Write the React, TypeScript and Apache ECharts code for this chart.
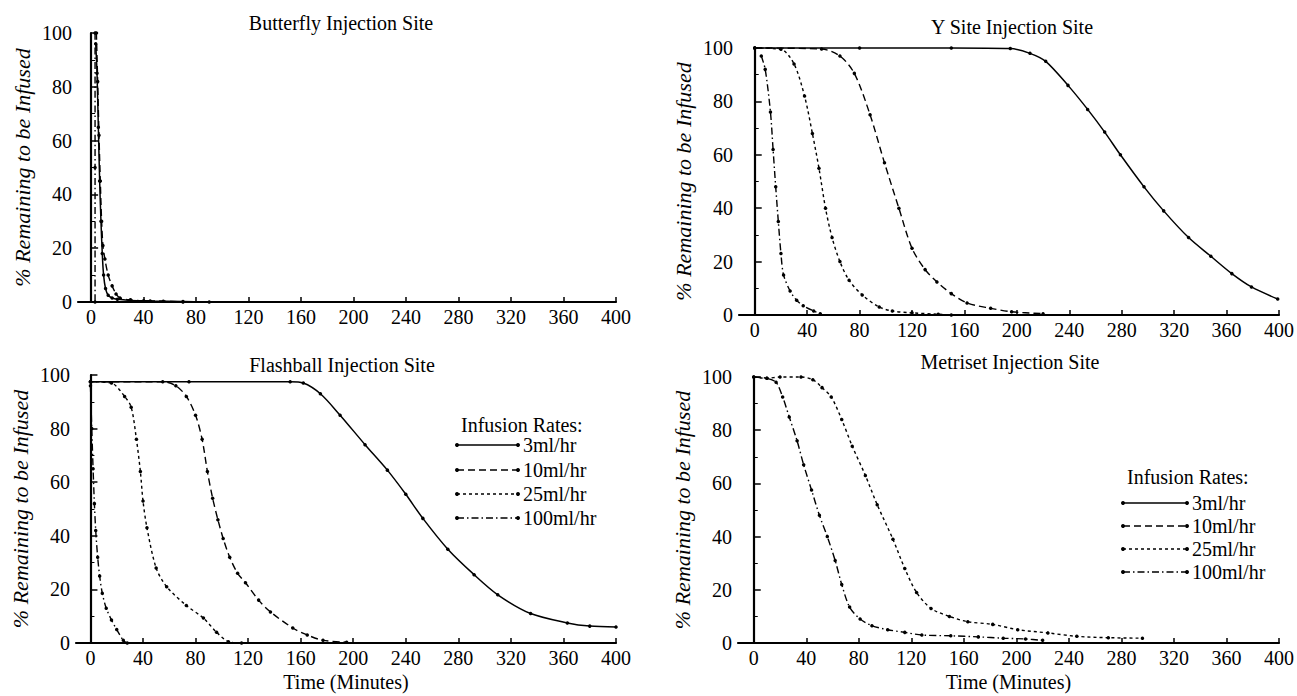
import React, { useEffect, useRef } from "react";
import * as echarts from "echarts";

// ---------- data ----------
const xTickValues = [0, 40, 80, 120, 160, 200, 240, 280, 320, 360, 400];
const rateNames = ["3ml/hr", "10ml/hr", "25ml/hr", "100ml/hr"];
const panelTitles = [
  "Butterfly Injection Site",
  "Y Site Injection Site",
  "Flashball Injection Site",
  "Metriset Injection Site",
];
const yAxisTitle = "% Remaining to be Infused";
const xAxisTitle = "Time (Minutes)";
const legendTitle = "Infusion Rates:";

// Butterfly
const butterfly3 = [[3.5, 96], [4.5, 85], [5.5, 65], [6.5, 45], [7.5, 30], [8.5, 18], [9.5, 10], [11, 5], [13, 2.5], [16, 1.5], [20, 1], [30, 0.6], [45, 0.4], [70, 0.2], [90, 0]];
const butterfly10 = [[4, 100], [5, 82], [6, 62], [7, 45], [8, 30], [9, 21], [10.5, 16], [13, 10], [16, 6], [19, 3], [22, 1.5], [30, 0.8], [40, 0.5], [55, 0.3], [70, 0]];
const butterfly25: number[][] = [];
const butterfly100 = [[3, 100], [3, 50], [3, 0]];

// Y Site
const ysite3 = [[0, 100], [80, 100], [150, 100], [195, 99.8], [210, 98], [222, 95], [239, 86], [254, 77], [267, 68.5], [279, 60], [297, 48], [312, 39], [331, 29], [348, 22], [364, 15.5], [379, 10.5], [399, 6]];
const ysite10 = [[0, 100], [51, 99.6], [65, 97], [76, 90.5], [88, 75], [99, 57], [110, 40], [120, 25], [130, 17], [139, 12.4], [150, 8], [162, 4.5], [180, 2.5], [196, 1.2], [220, 0.5]];
const ysite25 = [[0, 100], [20, 99.5], [30, 94], [38, 82], [44, 68], [49, 55], [54, 40], [59, 29], [65, 20], [72, 13], [82, 7.5], [95, 3], [105, 1.5], [120, 0.8], [140, 0.3], [150, 0]];
const ysite100 = [[5, 97], [8, 92], [12, 76], [14, 62], [16, 48], [18, 35], [20, 23], [22, 15], [27, 9], [32, 5.5], [37, 3.5], [45, 1.5], [50, 0.5]];

// Flashball
const flash3 = [[0, 97.5], [75, 97.5], [152, 97.5], [162, 97], [175, 93], [190, 85], [209, 74], [226, 64.5], [240, 55.5], [253, 46.5], [272, 35], [292, 25.5], [310, 18], [335, 11], [363, 7.5], [380, 6.3], [400, 6]];
const flash10 = [[0, 97.5], [55, 97.5], [65, 96], [73, 92], [80, 85], [85, 76], [89, 64], [93, 54], [97, 46], [101, 39], [106, 32], [112, 26], [118, 22.5], [128, 16], [137, 11.6], [154, 5.6], [165, 3], [177, 1], [195, 0.3]];
const flash25 = [[0, 97.5], [16, 97], [26, 92], [31, 88], [35, 76], [38, 64], [40, 53], [43, 43], [50, 28], [58, 21], [73, 14], [86, 9.3], [96, 4], [105, 0.5], [115, 0]];
const flash100 = [[0, 96], [1, 80], [2, 65], [3, 52], [4, 42], [5.5, 32], [7, 25], [9, 18.6], [12, 13], [16, 8.6], [20, 5], [25, 1], [28, 0]];

// Metriset
const met3: number[][] = [];
const met10: number[][] = [];
const met25 = [[0, 100], [10, 99.5], [20, 100], [36, 100], [45, 99], [52, 96], [59, 92.5], [67, 84], [75, 74], [85, 63], [94, 52], [106, 39], [115, 28], [124, 19], [135, 13], [149, 10], [163, 8], [182, 7], [201, 5], [224, 3.8], [246, 2.5], [270, 2], [296, 1.8]];
const met100 = [[0, 100], [10, 99.5], [17, 98], [22, 92.5], [27, 85], [33, 76], [38, 67], [44, 57.5], [50, 48], [56, 40], [62, 31], [67, 22], [73, 13.5], [81, 9], [90, 6.5], [102, 5], [115, 4], [128, 3], [150, 2.7], [171, 2.3], [190, 1.8], [207, 1.5], [220, 1]];

const panelData = [
  [butterfly3, butterfly10, butterfly25, butterfly100],
  [ysite3, ysite10, ysite25, ysite100],
  [flash3, flash10, flash25, flash100],
  [met3, met10, met25, met100],
];

// ---------- styles / layout ----------
const FONT = "'Liberation Serif', 'Times New Roman', serif";
const lineTypes: any[] = ["solid", [7, 4], [3, 3], [7, 3, 1.5, 3]];

const panels = [
  { tx: 341, ty: 23, grid: { left: 78, top: 33, width: 538, height: 269 }, xmin: -10, xName: false, legend: null as any },
  { tx: 1012, ty: 27, grid: { left: 739, top: 48, width: 543, height: 267 }, xmin: -12, xName: false, legend: null as any },
  { tx: 342, ty: 365, grid: { left: 76, top: 375, width: 540, height: 268 }, xmin: -11, xName: true, legend: { x: 457, titleY: 425, ys: [445, 470, 494, 518], lineLen: 61 } },
  { tx: 1010, ty: 362, grid: { left: 738, top: 377, width: 542, height: 266 }, xmin: -12, xName: true, legend: { x: 1123, titleY: 477, ys: [503, 526, 549, 572], lineLen: 64 } },
];

function buildOption() {
  const grids = panels.map((p) => ({ ...p.grid, containLabel: false }));
  const xAxes = panels.map((p, i) => ({
    type: "value",
    gridIndex: i,
    min: p.xmin,
    max: 400,
    axisLine: { show: true, onZero: false, lineStyle: { color: "#000", width: 2.2 } },
    axisTick: { show: true, inside: true, length: 5, customValues: xTickValues, lineStyle: { color: "#000", width: 1.5 } },
    axisLabel: { customValues: xTickValues, color: "#000", fontFamily: FONT, fontSize: 20, margin: 5 },
    splitLine: { show: false },
    name: p.xName ? xAxisTitle : "",
    nameLocation: "middle",
    nameGap: 29,
    nameTextStyle: { color: "#000", fontFamily: FONT, fontSize: 20 },
  }));
  const yAxes = panels.map((p, i) => ({
    type: "value",
    gridIndex: i,
    min: 0,
    max: 100,
    interval: 20,
    axisLine: { show: true, lineStyle: { color: "#000", width: 2.2 } },
    axisTick: { show: true, inside: true, length: 7, lineStyle: { color: "#000", width: 1.5 } },
    minorTick: { show: true, splitNumber: 2, length: 4, lineStyle: { color: "#000", width: 1 } },
    axisLabel: { color: "#000", fontFamily: FONT, fontSize: 20, margin: 6 },
    splitLine: { show: false },
    name: yAxisTitle,
    nameLocation: "middle",
    nameGap: 45,
    nameTextStyle: { color: "#000", fontFamily: FONT, fontSize: 22, fontStyle: "italic" },
  }));
  const series: any[] = [];
  panelData.forEach((arr, pi) => {
    arr.forEach((data, ri) => {
      if (!data.length) return;
      series.push({
        type: "line",
        name: rateNames[ri],
        xAxisIndex: pi,
        yAxisIndex: pi,
        data,
        smooth: 0.3,
        clip: false,
        symbol: "circle",
        symbolSize: 3.5,
        showSymbol: true,
        itemStyle: { color: "#000" },
        lineStyle: { color: "#000", width: ri === 0 ? 1.5 : 1.4, type: lineTypes[ri] },
      });
    });
  });

  const graphic: any[] = [];
  panels.forEach((p, i) => {
    graphic.push({
      type: "text",
      x: p.tx,
      y: p.ty,
      style: { text: panelTitles[i], fill: "#000", font: `20px ${FONT}`, align: "center", verticalAlign: "middle" },
    });
    if (p.legend) {
      const L = p.legend;
      graphic.push({
        type: "text",
        x: L.x + 4,
        y: L.titleY,
        style: { text: legendTitle, fill: "#000", font: `20px ${FONT}`, align: "left", verticalAlign: "middle" },
      });
      rateNames.forEach((nm, ri) => {
        const y = L.ys[ri];
        graphic.push({
          type: "line",
          shape: { x1: L.x, y1: y, x2: L.x + L.lineLen, y2: y },
          style: { stroke: "#000", lineWidth: 1.4, lineDash: ri === 0 ? null : lineTypes[ri] },
        });
        graphic.push({ type: "circle", shape: { cx: L.x, cy: y, r: 2 }, style: { fill: "#000" } });
        graphic.push({ type: "circle", shape: { cx: L.x + L.lineLen, cy: y, r: 2 }, style: { fill: "#000" } });
        graphic.push({
          type: "text",
          x: L.x + L.lineLen + 5,
          y,
          style: { text: nm, fill: "#000", font: `20px ${FONT}`, align: "left", verticalAlign: "middle" },
        });
      });
    }
  });

  return {
    animation: false,
    backgroundColor: "#fff",
    textStyle: { fontFamily: FONT, color: "#000" },
    grid: grids,
    xAxis: xAxes,
    yAxis: yAxes,
    series,
    graphic,
  };
}

export default function App() {
  const ref = useRef<HTMLDivElement>(null);
  useEffect(() => {
    document.body.style.margin = "0";
    if (!ref.current) return;
    const chart = echarts.init(ref.current, undefined, { renderer: "svg" });
    chart.setOption(buildOption() as any);
    return () => chart.dispose();
  }, []);
  return <div ref={ref} style={{ width: 1297, height: 696 }} />;
}
